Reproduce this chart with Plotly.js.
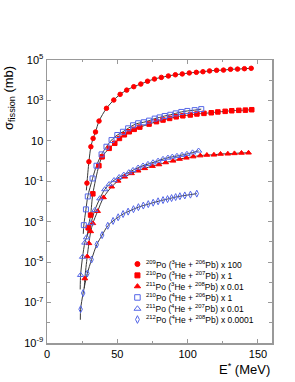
<!DOCTYPE html>
<html>
<head>
<meta charset="utf-8">
<script src="https://cdn.plot.ly/plotly-3.0.1.min.js"></script>
<style>html,body{margin:0;padding:0;background:#fff;}#chart{width:295px;height:382px;}</style>
</head>
<body>
<div id="chart"></div>
<script>
// Excitation energy E* (MeV) and log10(sigma_fission / mb)
var e209 = [28.4, 29.8, 31.2, 32.8, 34.5, 37, 42.3, 47.5, 52, 56.7, 61.7, 66.7, 71.5, 76.4, 81.3, 86.3, 91.3, 96.2, 101.2, 106.2, 110.9, 115.6, 120.6, 125.5, 130.5, 135.5, 140.4, 145.2];
var l209 = [-1.09, -0.03, 0.71, 1.12, 1.44, 1.98, 2.61, 3.02, 3.30, 3.51, 3.68, 3.81, 3.95, 4.06, 4.14, 4.21, 4.27, 4.31, 4.36, 4.39, 4.42, 4.46, 4.49, 4.50, 4.54, 4.55, 4.57, 4.59];

var e210a = [29.3, 31, 32.6, 36.9, 39.2, 44.2, 48.2, 51.5, 55, 58.5, 62, 66, 72.6, 77.8, 82.5, 87.2, 91.9, 96.6, 101.9, 106.6, 111.6, 116.8, 121.5, 126.7, 131.4, 136.4, 141.1, 145.6];
var l210a = [-3.30, -2.67, -1.62, -0.23, 0.21, 0.63, 0.88, 1.12, 1.30, 1.45, 1.57, 1.68, 1.83, 1.95, 2.03, 2.11, 2.19, 2.24, 2.28, 2.33, 2.36, 2.39, 2.43, 2.46, 2.49, 2.51, 2.52, 2.54];

var e211a = [26.9, 28.6, 29.8, 31.1, 32.6, 36, 40.2, 46, 50.6, 55.3, 60.1, 64.8, 69.5, 75, 79.6, 84.4, 89.6, 94.3, 99.1, 104, 109, 113.7, 118.7, 123.4, 128.6, 133.3, 138.3, 143.3];
var l211a = [-5.81, -4.72, -4.07, -3.48, -3.08, -2.48, -1.80, -1.27, -0.98, -0.78, -0.61, -0.48, -0.36, -0.25, -0.17, -0.07, 0.01, 0.10, 0.16, 0.22, 0.27, 0.30, 0.31, 0.35, 0.36, 0.38, 0.40, 0.41];

var e210b = [26.2, 27.7, 29.0, 32.4, 35.2, 38.8, 42.3, 45.9, 50, 54, 57.7, 61.2, 64.8, 68.8, 72.6, 76.6, 80.1, 83.7, 87.7, 91.5, 95.5, 99.8, 105, 109.7];
var l210b = [-3.17, -2.39, -1.75, -0.86, -0.23, 0.33, 0.71, 1.04, 1.29, 1.45, 1.62, 1.77, 1.87, 1.92, 2.00, 2.10, 2.16, 2.23, 2.29, 2.36, 2.43, 2.48, 2.52, 2.57];

var e211b = [23.9, 25.3, 26.9, 28.1, 31.2, 34, 37.6, 41.1, 44.2, 47.7, 51.3, 54.6, 58.2, 61.2, 64.8, 68.3, 71.8, 75.4, 79, 82.5, 86, 89.1, 92.4, 96, 99.5, 103.5, 107.8];
var l211b = [-5.64, -4.74, -4.04, -3.78, -3.08, -2.43, -1.85, -1.40, -1.15, -0.95, -0.80, -0.68, -0.56, -0.45, -0.33, -0.23, -0.15, -0.07, 0.01, 0.10, 0.16, 0.21, 0.25, 0.30, 0.35, 0.42, 0.51];

var e212 = [23.9, 25.7, 28.7, 31.7, 35.4, 39.2, 43.2, 47, 50.6, 54.1, 57.7, 61.5, 65, 68.5, 72, 75.5, 79, 82.5, 85.7, 88.6, 91.5, 94.5, 98, 102, 106.5];
var l212 = [-7.33, -6.53, -5.56, -4.87, -4.13, -3.66, -3.20, -2.96, -2.78, -2.62, -2.50, -2.38, -2.28, -2.20, -2.13, -2.06, -1.99, -1.93, -1.88, -1.83, -1.78, -1.74, -1.70, -1.66, -1.61];

// low-energy ends of the calculated curves (below the first data point)
var tailE = [28.0, 28.8, 26.5, 25.8, 23.6, 23.7];
var tailL = [-1.45, -3.7, -6.3, -3.6, -6.35, -7.85];

var names = [
  '<sup>209</sup>Po (<sup>3</sup>He + <sup>206</sup>Pb) x 100',
  '<sup>210</sup>Po (<sup>3</sup>He + <sup>207</sup>Pb) x 1',
  '<sup>211</sup>Po (<sup>3</sup>He + <sup>208</sup>Pb) x 0.01',
  '<sup>210</sup>Po (<sup>4</sup>He + <sup>206</sup>Pb) x 1',
  '<sup>211</sup>Po (<sup>4</sup>He + <sup>207</sup>Pb) x 0.01',
  '<sup>212</sup>Po (<sup>4</sup>He + <sup>208</sup>Pb) x 0.0001'
];

var yTickVals = [1e-9, 1e-7, 1e-5, 1e-3, 1e-1, 10, 1e3, 1e5];
var yTickText = ['10<sup>-9</sup>', '10<sup>-7</sup>', '10<sup>-5</sup>', '10<sup>-3</sup>', '10<sup>-1</sup>', '10', '10<sup>3</sup>', '10<sup>5</sup>'];

var RED = '#ff0000', BLUE = '#5466e8';
var series = [
  {e: e209, l: l209, sym: 'circle', col: RED, size: 4.5},
  {e: e210a, l: l210a, sym: 'square', col: RED, size: 4.5},
  {e: e211a, l: l211a, sym: 'triangle-up', col: RED, size: 5},
  {e: e210b, l: l210b, sym: 'square-open', col: BLUE, size: 5},
  {e: e211b, l: l211b, sym: 'triangle-up-open', col: BLUE, size: 5.5},
  {e: e212, l: l212, sym: 'diamond-tall-open', col: BLUE, size: 5}
];

// legend layout (paper fractions of the plot area)
var legMarkX = 0.402, legTextX = 0.432;
var legRowY = [0.279, 0.239, 0.200, 0.161, 0.121, 0.083];

function pw(a) { return a.map(function (v) { return Math.pow(10, v); }); }

var traces = [];
series.forEach(function (s, i) {
  traces.push({
    x: [tailE[i]].concat(s.e), y: pw([tailL[i]].concat(s.l)),
    mode: 'lines', line: {color: '#3a3a3a', width: 1, shape: 'spline', smoothing: 0.8},
    showlegend: false, hoverinfo: 'skip'
  });
});
series.forEach(function (s, i) {
  traces.push({
    x: s.e, y: pw(s.l), name: names[i], mode: 'markers', showlegend: false,
    marker: {symbol: s.sym, color: s.col, size: s.size, line: {color: s.col, width: 1}}
  });
});
// legend key symbols on an overlay paper-like axis
series.forEach(function (s, i) {
  traces.push({
    x: [legMarkX], y: [legRowY[i]], xaxis: 'x2', yaxis: 'y2', mode: 'markers',
    showlegend: false, hoverinfo: 'skip',
    marker: {symbol: s.sym, color: s.col, size: s.size + 0.5, line: {color: s.col, width: 1}}
  });
});

var annotations = [
  {text: '\u03c3<sub>fission</sub> (mb)', xref: 'paper', yref: 'paper', x: -0.17, y: 0.985,
   xanchor: 'center', yanchor: 'top', textangle: -90, showarrow: false, font: {size: 13}},
  {text: 'E<sup>*</sup> (MeV)', xref: 'paper', yref: 'paper', x: 1.0, y: -0.055,
   xanchor: 'right', yanchor: 'top', showarrow: false, font: {size: 13}}
];
names.forEach(function (n, i) {
  annotations.push({text: n, xref: 'paper', yref: 'paper', x: legTextX, y: legRowY[i],
    xanchor: 'left', yanchor: 'middle', showarrow: false, font: {size: 8.5}});
});

var layout = {
  width: 295, height: 382,
  margin: {l: 47, r: 23, t: 60, b: 39},
  paper_bgcolor: '#fff', plot_bgcolor: '#fff',
  font: {family: 'Liberation Sans, Arial, sans-serif', color: '#000'},
  showlegend: false,
  xaxis: {
    range: [0, 160], showgrid: false, zeroline: false,
    showline: true, linecolor: '#999', linewidth: 1.5, mirror: 'ticks',
    ticks: 'inside', tickcolor: '#999', ticklen: 4,
    tickvals: [0, 50, 100, 150], ticktext: ['0', '50', '100', '150'],
    tickfont: {size: 11},
    minor: {tickvals: [25, 75, 125], ticklen: 2, tickcolor: '#999', ticks: 'inside'}
  },
  yaxis: {
    type: 'log', range: [-9, 5], showgrid: false, zeroline: false,
    showline: true, linecolor: '#999', linewidth: 1.5, mirror: 'ticks',
    ticks: 'inside', tickcolor: '#999', ticklen: 4,
    tickvals: yTickVals, ticktext: yTickText, tickfont: {size: 11},
    minor: {tickvals: [1e-8, 1e-6, 1e-4, 1e-2, 1, 100, 1e4], ticklen: 3, tickcolor: '#999', ticks: 'inside'}
  },
  xaxis2: {overlaying: 'x', range: [0, 1], visible: false, fixedrange: true},
  yaxis2: {overlaying: 'y', range: [0, 1], visible: false, fixedrange: true},
  annotations: annotations
};

Plotly.newPlot('chart', traces, layout, {displayModeBar: false, staticPlot: true});
</script>
</body>
</html>
